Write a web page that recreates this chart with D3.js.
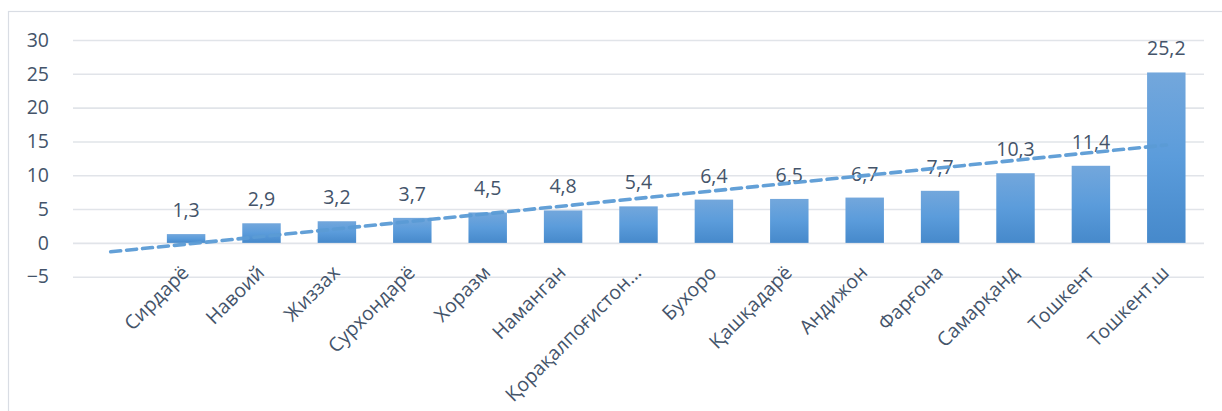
<!DOCTYPE html>
<html>
<head>
<meta charset="utf-8">
<script src="https://cdn.jsdelivr.net/npm/d3@7/dist/d3.min.js"></script>
<style>
  html, body { margin: 0; padding: 0; background: #ffffff; }
  svg { display: block; }
  text { font-family: "Open Sans", "Noto Sans", sans-serif; fill: #44546a; }
</style>
</head>
<body>
<svg id="chart" width="1222" height="411"></svg>
<script>
// ---- data ----
const categories = ["Сирдарё", "Навоий", "Жиззах", "Сурхондарё", "Хоразм", "Наманган",
  "Қорақалпоғистон…", "Бухоро", "Қашқадарё", "Андижон", "Фарғона", "Самарқанд", "Тошкент", "Тошкент.ш"];
const values = [1.3, 2.9, 3.2, 3.7, 4.5, 4.8, 5.4, 6.4, 6.5, 6.7, 7.7, 10.3, 11.4, 25.2];
const labels = ["1,3", "2,9", "3,2", "3,7", "4,5", "4,8", "5,4", "6,4", "6,5", "6,7", "7,7", "10,3", "11,4", "25,2"];
const yTicks = [-5, 0, 5, 10, 15, 20, 25, 30];

// ---- layout ----
const svg = d3.select("#chart");
const plot = { left: 73, right: 1204, top: 40, bottom: 276.7 };

// chart frame
svg.append("rect")
  .attr("x", 8.5).attr("y", 11.5)
  .attr("width", 1240).attr("height", 420)
  .attr("fill", "#ffffff")
  .attr("stroke", "#d9dde4").attr("stroke-width", 1.2);

// one leading empty slot (as in the original category axis)
const slots = ["_blank", ...categories];
const x = d3.scaleBand().domain(slots).range([plot.left, plot.right]).paddingInner(0).paddingOuter(0);
const y = d3.scaleLinear().domain([-5, 30]).range([plot.bottom, plot.top]);

// gradient
const defs = svg.append("defs");
const grad = defs.append("linearGradient").attr("id", "barGrad")
  .attr("x1", 0).attr("y1", 0).attr("x2", 0).attr("y2", 1);
grad.append("stop").attr("offset", "0%").attr("stop-color", "#73a7dc");
grad.append("stop").attr("offset", "50%").attr("stop-color", "#5b9cdb");
grad.append("stop").attr("offset", "100%").attr("stop-color", "#4689cb");

// gridlines + y tick labels via axis
const yAxis = d3.axisLeft(y).tickValues(yTicks).tickSize(-(plot.right - plot.left)).tickPadding(24)
  .tickFormat(d3.format("d"));
const gy = svg.append("g").attr("transform", `translate(${plot.left},0)`).call(yAxis);
gy.select(".domain").remove();
gy.selectAll(".tick line").attr("stroke", "#e1e4e9").attr("stroke-width", 1.6);
gy.selectAll(".tick text")
  .attr("fill", "#44546a")
  .style("font-family", '"Open Sans", "Noto Sans", sans-serif')
  .style("font-size", "19.5px");

// bars
const bw = x.bandwidth() * 0.51;
svg.append("g").selectAll("rect").data(values).join("rect")
  .attr("x", (d, i) => x(categories[i]) + (x.bandwidth() - bw) / 2)
  .attr("width", bw)
  .attr("y", d => y(d))
  .attr("height", d => y(0) - y(d))
  .attr("fill", "url(#barGrad)");

// data labels
svg.append("g").selectAll("text").data(values).join("text")
  .attr("x", (d, i) => x(categories[i]) + x.bandwidth() / 2)
  .attr("y", d => y(d) - 17)
  .attr("text-anchor", "middle")
  .style("font-size", "19.5px")
  .text((d, i) => labels[i]);

// linear trendline (least squares over the series, positions 1..14, shown from slot 0)
const xs = values.map((d, i) => i + 1);
const mx = d3.mean(xs), my = d3.mean(values);
const slope = d3.sum(xs, (xv, i) => (xv - mx) * (values[i] - my)) / d3.sum(xs, xv => (xv - mx) ** 2);
const icpt = my - slope * mx;
const pos = k => x(slots[k]) + x.bandwidth() / 2;
const trend = [0, categories.length].map(k => [pos(k), y(icpt + slope * k)]);
svg.append("path")
  .attr("d", d3.line()(trend))
  .attr("fill", "none")
  .attr("stroke", "#5b9bd5")
  .attr("stroke-opacity", 0.95)
  .attr("stroke-width", 3.6)
  .attr("stroke-dasharray", "10 6")
  .attr("stroke-linecap", "round");

// category labels rotated
svg.append("g").selectAll("text").data(categories).join("text")
  .attr("transform", d => `translate(${x(d) + x.bandwidth() / 2 + 4},${y(0) + 31}) rotate(-45)`)
  .attr("text-anchor", "end")
  .style("font-size", "19.5px")
  .text(d => d);
</script>
</body>
</html>
